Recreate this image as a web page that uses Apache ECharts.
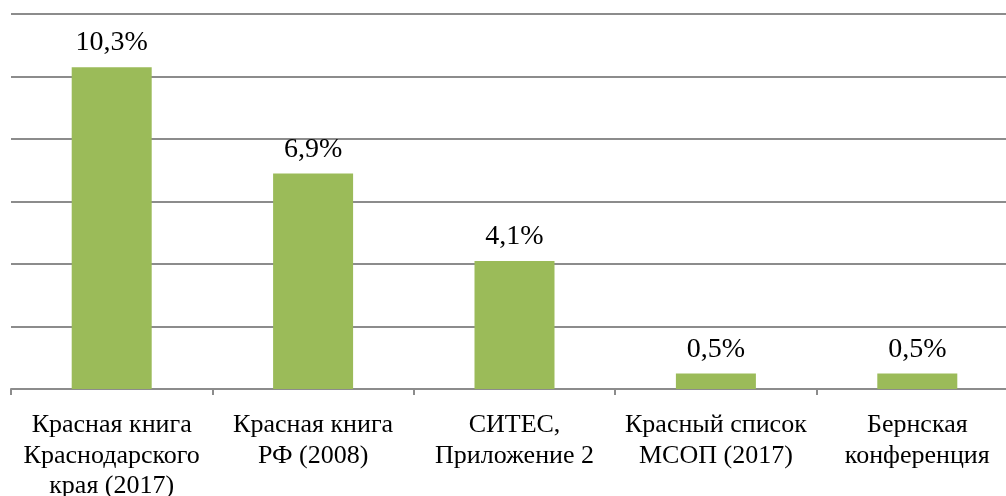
<!DOCTYPE html>
<html>
<head>
<meta charset="utf-8">
<script src="https://cdn.jsdelivr.net/npm/echarts@6/dist/echarts.min.js"></script>
<style>
  html, body { margin: 0; padding: 0; background: #fff; }
  #chart { width: 1006px; height: 496px; }
</style>
</head>
<body>
<div id="chart"></div>
<script>
const categories = [
  'Красная книга\nКраснодарского\nкрая (2017)',
  'Красная книга\nРФ (2008)',
  'СИТЕС,\nПриложение 2',
  'Красный список\nМСОП (2017)',
  'Бернская\nконференция'
];
const values = [10.3, 6.9, 4.1, 0.5, 0.5];

const font = '"Liberation Serif", "Times New Roman", serif';
const gridColor = '#8c8c8c';

let myChart = echarts.init(document.getElementById('chart'));
myChart.setOption({
  animation: false,
  grid: { left: 11, right: -12, top: 14, bottom: 107, outerBoundsMode: 'none', containLabel: false },
  xAxis: {
    type: 'category',
    data: categories,
    axisLine: { show: true, lineStyle: { color: gridColor, width: 2 } },
    axisTick: { show: true, length: 6, lineStyle: { color: gridColor, width: 2 } },
    axisLabel: {
      color: '#000',
      fontFamily: font,
      fontSize: 26,
      lineHeight: 30.5,
      margin: 21,
      interval: 0
    }
  },
  yAxis: {
    type: 'value',
    min: 0,
    max: 12,
    interval: 2,
    axisLabel: { show: false },
    axisLine: { show: false },
    axisTick: { show: false },
    splitLine: { lineStyle: { color: gridColor, width: 2 } }
  },
  series: [{
    type: 'bar',
    data: values,
    barWidth: 80,
    itemStyle: { color: '#9bbb59' },
    label: {
      show: true,
      position: 'top',
      distance: 10,
      color: '#000',
      fontFamily: font,
      fontSize: 28,
      formatter: p => String(p.value).replace('.', ',') + '%'
    }
  }]
});
</script>
</body>
</html>
